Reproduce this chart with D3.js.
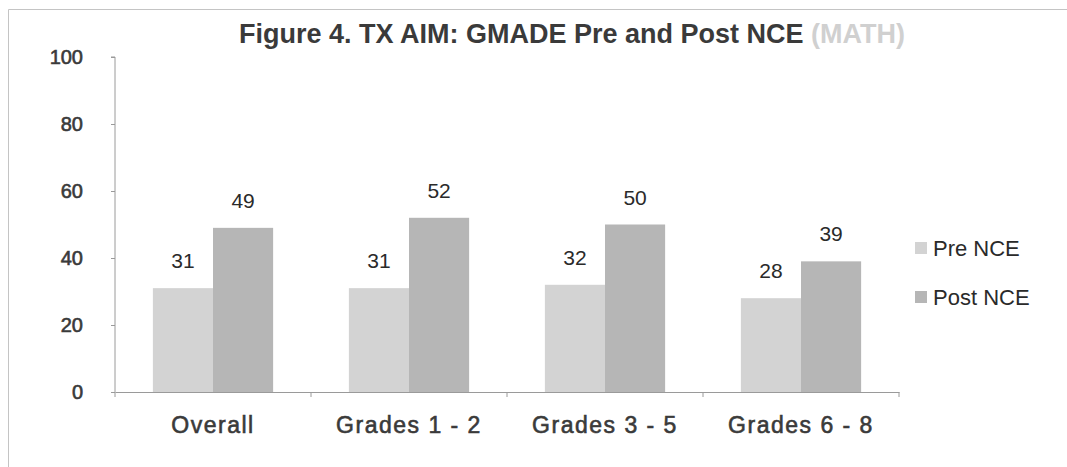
<!DOCTYPE html>
<html>
<head>
<meta charset="utf-8">
<script src="https://cdn.jsdelivr.net/npm/d3@7"></script>
<style>
  html, body { margin: 0; padding: 0; background: #fff; }
  svg { display: block; font-family: "Liberation Sans", Arial, Helvetica, sans-serif; }
</style>
</head>
<body>
<svg id="chart" width="1067" height="467"></svg>
<script>
// Chart data
const categories = ["Overall", "Grades 1 - 2", "Grades 3 - 5", "Grades 6 - 8"];
const seriesNames = ["Pre NCE", "Post NCE"];
const preValues = [31, 31, 32, 28];
const postValues = [49, 52, 50, 39];
const yTicks = [0, 20, 40, 60, 80, 100];
const titleMain = "Figure 4. TX AIM: GMADE Pre and Post NCE ";
const titleSub = "(MATH)";

const colors = { "Pre NCE": "#d3d3d3", "Post NCE": "#b6b6b6" };

const svg = d3.select("#chart");

// outer frame (open to the right and bottom edge)
svg.append("path")
  .attr("d", "M8.5,467 L8.5,9.5 L1067,9.5")
  .attr("fill", "none")
  .attr("stroke", "#c4c4c4")
  .attr("stroke-width", 1);

const plot = { left: 115, right: 899, top: 57, bottom: 392 };

const x0 = d3.scaleBand()
  .domain(categories)
  .range([plot.left, plot.right])
  .paddingInner(0)
  .paddingOuter(0);

// pair of bars in the middle of each category band
const x1 = d3.scaleBand()
  .domain(seriesNames)
  .range([0, x0.bandwidth()])
  .paddingInner(0)
  .paddingOuter(0.63);

const y = d3.scaleLinear().domain([0, 100]).range([plot.bottom, plot.top]);

const rows = categories.map((c, i) => ({
  category: c,
  values: [
    { series: "Pre NCE", value: preValues[i] },
    { series: "Post NCE", value: postValues[i] }
  ]
}));

// bars
const groups = svg.append("g").selectAll("g")
  .data(rows).join("g")
  .attr("transform", d => `translate(${x0(d.category)},0)`);

groups.selectAll("rect")
  .data(d => d.values).join("rect")
  .attr("x", d => x1(d.series))
  .attr("y", d => y(d.value))
  .attr("width", x1.bandwidth())
  .attr("height", d => y(0) - y(d.value))
  .attr("fill", d => colors[d.series]);

// value labels
groups.selectAll("text")
  .data(d => d.values).join("text")
  .attr("x", d => x1(d.series) + x1.bandwidth() / 2)
  .attr("y", d => y(d.value) - 20)
  .attr("text-anchor", "middle")
  .attr("font-size", 21)
  .attr("fill", "#2a2a2a")
  .text(d => d.value);

// y axis
const yAxis = d3.axisLeft(y).tickValues(yTicks).tickSize(4).tickPadding(28);
const gy = svg.append("g").attr("transform", `translate(${plot.left},0)`).call(yAxis);
gy.select(".domain").attr("stroke", "#9a9a9a").attr("d", `M-4,${plot.top}H0V${plot.bottom}`);
gy.selectAll(".tick line").attr("stroke", "#9a9a9a");
gy.selectAll(".tick text")
  .attr("font-size", 20)
  .attr("font-family", "Liberation Sans, Arial, sans-serif")
  .attr("fill", "#3a3a3a")
  .attr("stroke", "#3a3a3a")
  .attr("stroke-width", 0.6);

// x axis
const xAxis = d3.axisBottom(x0).tickSize(0).tickPadding(0);
const gx = svg.append("g").attr("transform", `translate(0,${plot.bottom})`).call(xAxis);
gx.select(".domain").attr("stroke", "#9a9a9a");
gx.selectAll(".tick text")
  .attr("y", 41)
  .attr("dy", 0)
  .attr("font-size", 23)
  .attr("letter-spacing", 1.5)
  .attr("font-family", "Liberation Sans, Arial, sans-serif")
  .attr("fill", "#3a3a3a")
  .attr("stroke", "#3a3a3a")
  .attr("stroke-width", 0.6);
// category boundary tick marks
const bounds = categories.map(c => x0(c)).concat([x0(categories[categories.length - 1]) + x0.bandwidth()]);
gx.selectAll(".bound").data(bounds).join("line")
  .attr("class", "bound")
  .attr("x1", d => d).attr("x2", d => d)
  .attr("y1", 0).attr("y2", 5)
  .attr("stroke", "#9a9a9a");

// title
const title = svg.append("text")
  .attr("x", 572)
  .attr("y", 43)
  .attr("text-anchor", "middle")
  .attr("font-size", 27)
  .attr("font-weight", "bold");
title.append("tspan").attr("fill", "#3a3a3a").text(titleMain);
title.append("tspan").attr("fill", "#d0d0d0").text(titleSub);

// legend
const legend = svg.append("g").attr("transform", "translate(915,0)");
const legendY = [248, 297];
seriesNames.forEach((s, i) => {
  legend.append("rect")
    .attr("x", 0).attr("y", legendY[i] - 6)
    .attr("width", 12).attr("height", 12)
    .attr("fill", colors[s]);
  legend.append("text")
    .attr("x", 18).attr("y", legendY[i] + 8)
    .attr("font-size", 22)
    .attr("fill", "#2a2a2a")
    .text(s);
});
</script>
</body>
</html>
